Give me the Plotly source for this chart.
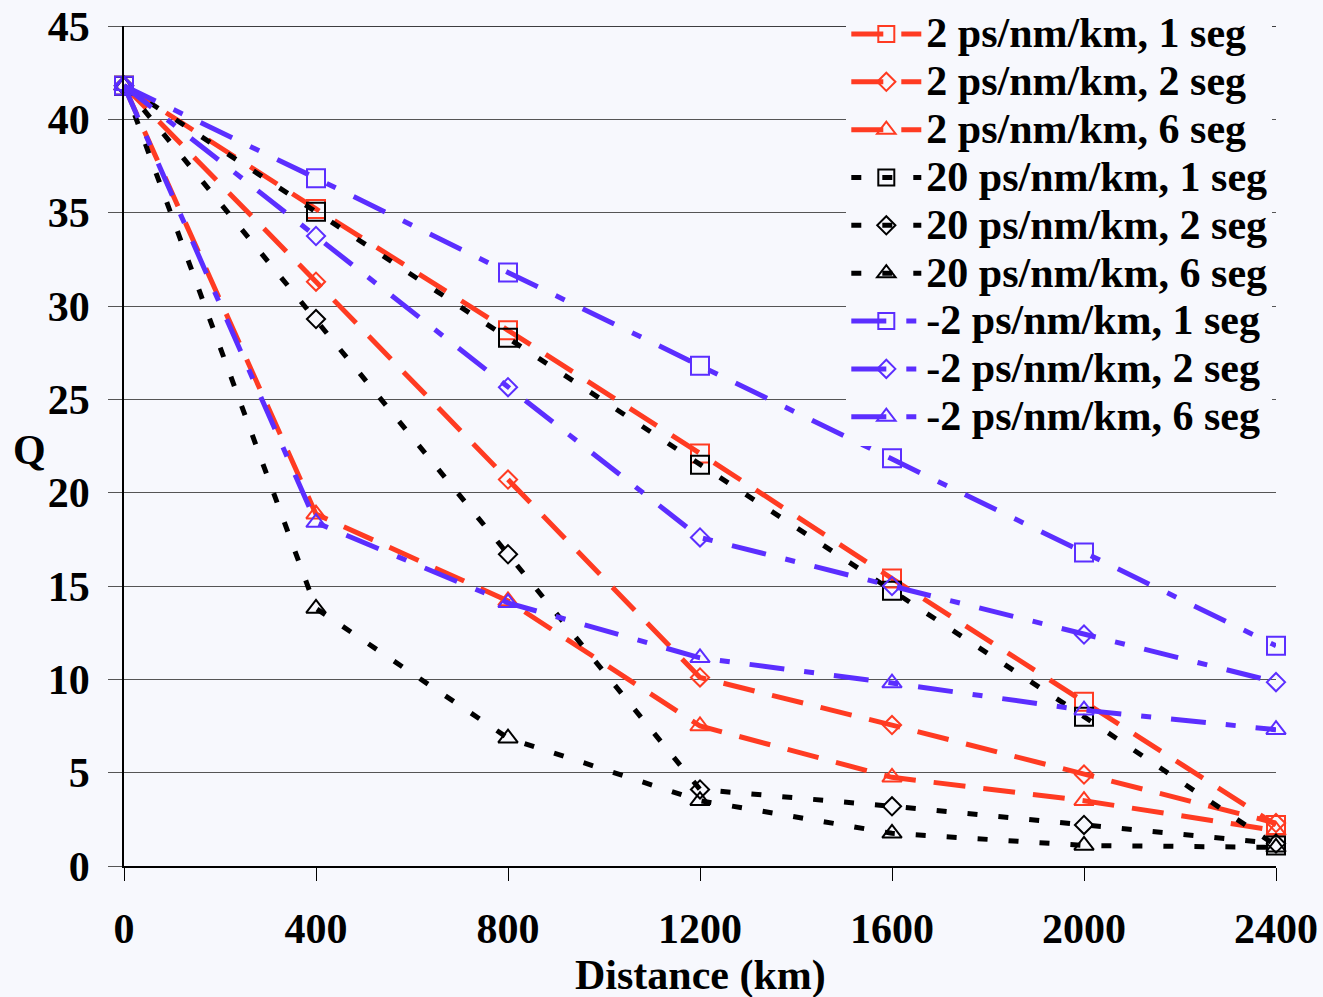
import plotly.graph_objects as go

distance_km = [0, 400, 800, 1200, 1600, 2000, 2400]

q_p2_1seg = [41.8, 35.2, 28.7, 22.1, 15.4, 8.8, 2.2]
q_p2_2seg = [41.8, 31.3, 20.7, 10.1, 7.55, 4.9, 2.3]
q_p2_6seg = [41.8, 18.85, 14.2, 7.5, 4.75, 3.5, 1.9]
q_p20_1seg = [41.8, 35.05, 28.3, 21.5, 14.75, 8.0, 1.1]
q_p20_2seg = [41.8, 29.3, 16.7, 4.1, 3.2, 2.2, 1.2]
q_p20_6seg = [41.8, 13.8, 6.85, 3.5, 1.75, 1.1, 1.0]
q_m2_1seg = [41.8, 36.85, 31.8, 26.8, 21.85, 16.8, 11.8]
q_m2_2seg = [41.8, 33.75, 25.65, 17.6, 15.0, 12.4, 9.85]
q_m2_6seg = [41.8, 18.4, 14.1, 11.15, 9.8, 8.35, 7.3]

series_names = [
    "2 ps/nm/km, 1 seg", "2 ps/nm/km, 2 seg", "2 ps/nm/km, 6 seg",
    "20 ps/nm/km, 1 seg", "20 ps/nm/km, 2 seg", "20 ps/nm/km, 6 seg",
    "-2 ps/nm/km, 1 seg", "-2 ps/nm/km, 2 seg", "-2 ps/nm/km, 6 seg",
]
series_values = [q_p2_1seg, q_p2_2seg, q_p2_6seg,
                 q_p20_1seg, q_p20_2seg, q_p20_6seg,
                 q_m2_1seg, q_m2_2seg, q_m2_6seg]

RED = "#FF3B22"
BLACK = "#000000"
BLUE = "#5B2EFF"
BG = "#F7F8FD"
FONT = "Liberation Serif, Times New Roman, serif"

colors = [RED] * 3 + [BLACK] * 3 + [BLUE] * 3
dashes = ["32px,18px"] * 3 + ["10px,21px"] * 3 + ["35px,20px,10px,20px"] * 3
symbols = ["square-open", "diamond-open", "triangle-up-open"] * 3
sizes = {"square-open": 18, "diamond-open": 14, "triangle-up-open": 17}

fig = go.Figure()
for name, vals, c, d, s in zip(series_names, series_values, colors, dashes, symbols):
    fig.add_trace(go.Scatter(
        x=distance_km, y=vals, mode="lines+markers", cliponaxis=False,
        name='<span style="font-size:42px">' + name + '</span>',
        line=dict(color=c, width=5, dash=d),
        marker=dict(symbol=s, size=sizes[s], color=c, line=dict(color=c, width=2)),
    ))

fig.add_shape(type="line", xref="paper", yref="y", x0=0, x1=1, y0=45, y1=45,
              line=dict(color="black", width=1.5), layer="below")

fig.update_layout(
    width=1323, height=997, autosize=False,
    margin=dict(l=124, r=47, t=26, b=131, autoexpand=False),
    paper_bgcolor=BG, plot_bgcolor=BG,
    font=dict(family=FONT, size=42, color="black", weight="bold"),
    showlegend=True,
    legend=dict(x=0.627, y=1.025, xanchor="left", yanchor="top",
                bgcolor=BG, borderwidth=0, itemwidth=70,
                font=dict(family=FONT, size=34.5, color="black", weight="bold"),
                tracegroupgap=0),
    xaxis=dict(range=[0, 2400], tickmode="array", tickvals=distance_km,
               ticks="outside", ticklen=13, tickcolor="black", tickwidth=1,
               showline=True, linecolor="black", linewidth=1.5,
               showgrid=False, zeroline=False, ticklabelstandoff=12,
               automargin=False,
               tickfont=dict(family=FONT, size=42, color="black", weight="bold")),
    yaxis=dict(range=[0, 45], dtick=5, ticks="outside", ticklen=14,
               tickcolor="#555555", tickwidth=1,
               showline=True, linecolor="black", linewidth=1.5,
               showgrid=True, gridcolor="#555555", gridwidth=1,
               zeroline=False, ticklabelstandoff=10, automargin=False,
               tickfont=dict(family=FONT, size=42, color="black", weight="bold")),
    annotations=[
        dict(text="Distance (km)", xref="paper", yref="paper", x=0.5, y=-0.13,
             xanchor="center", yanchor="middle", showarrow=False,
             font=dict(family=FONT, size=42, color="black", weight="bold")),
        dict(text="Q", xref="paper", yref="paper", x=-0.082, y=0.495,
             xanchor="center", yanchor="middle", showarrow=False,
             font=dict(family=FONT, size=42, color="black", weight="bold")),
    ],
)

fig.write_html(
    "out.html",
    config={"responsive": False, "displayModeBar": False},
    post_script="document.body.style.margin='0';document.body.style.overflow='hidden';",
)
